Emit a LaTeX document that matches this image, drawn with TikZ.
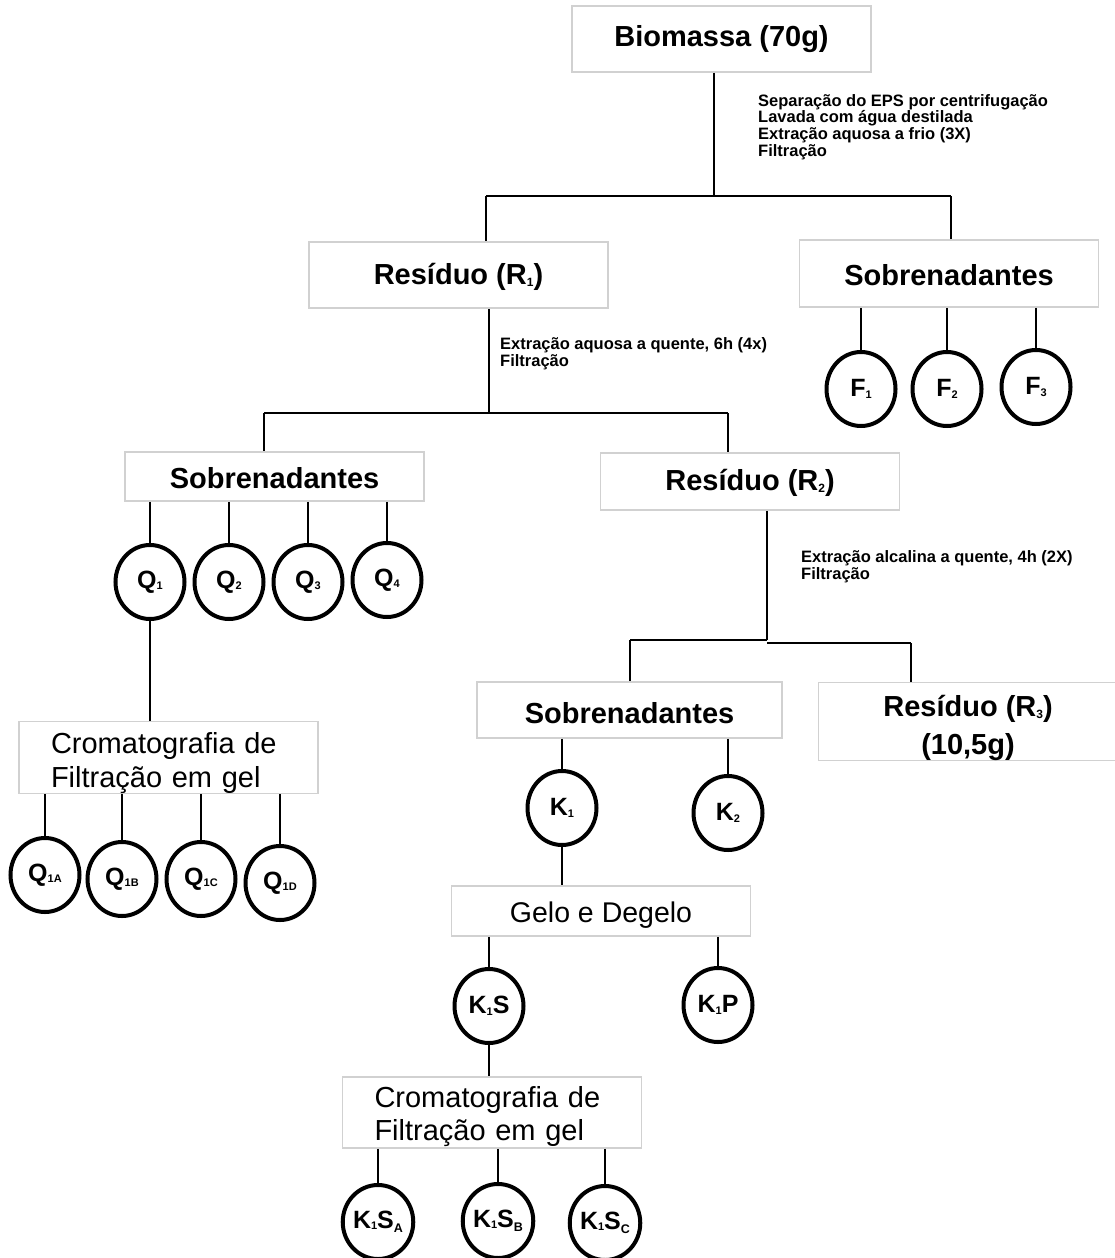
\documentclass[tikz,border=0pt]{standalone}
\usepackage{fontspec}
\setmainfont{Liberation Sans}
\usetikzlibrary{shapes.geometric}
\newcommand{\bsub}[1]{\raisebox{-2pt}{\fontsize{12}{12}\selectfont #1}}
\newcommand{\csub}[1]{\raisebox{-1.5pt}{\fontsize{11}{11}\selectfont #1}}
\newcommand{\dsub}[1]{\raisebox{-4.5pt}{\fontsize{12.5}{12.5}\selectfont #1}}
\tikzset{
  bx/.style={draw=black!18, line width=1.5pt, inner sep=0pt, minimum width=299pt, font=\fontsize{29}{33}\selectfont\bfseries},
  crom/.style={draw=black!18, line width=1.5pt, inner ysep=0pt, inner xsep=32pt, text width=235pt, align=left, minimum width=299pt, minimum height=71pt, font=\fontsize{29}{33.5}\selectfont},
  crc/.style={ellipse, draw=black, line width=4pt, inner sep=0pt, minimum width=69pt, minimum height=74pt, font=\fontsize{25}{25}\selectfont\bfseries},
  conn/.style={draw=black, line width=2.2pt},
  ann/.style={anchor=base west, inner sep=0pt, font=\fontsize{16.5}{17}\selectfont\bfseries}
}
\begin{document}
\begin{tikzpicture}[x=1pt,y=-1pt]
\useasboundingbox (0,0) rectangle (1114,1258);

% boxes
\node[bx, minimum height=66pt] (B) at (721.5,39) {Biomassa (70g)};
\node[bx, minimum height=66pt] (R1) at (458.5,275) {\rule{0pt}{25pt}Resíduo (R\bsub{1})};
\node[bx, minimum height=67pt] (S1) at (949,273.5) {\rule{0pt}{25pt}Sobrenadantes};
\node[bx, minimum height=49pt] (S2) at (274.5,476.5) {\rule{0pt}{25pt}Sobrenadantes};
\node[bx, minimum height=57pt] (R2) at (750,481.5) {\rule{0pt}{25pt}Resíduo (R\bsub{2})};
\node[crom] (C1) at (168.5,757.5) {\rule{0pt}{32pt}Cromatografia de\\Filtração em gel};
\node[bx, minimum width=305pt, minimum height=56pt] (S3) at (629.5,710) {\rule{0pt}{27pt}Sobrenadantes};
\node[bx, minimum height=77pt, align=center, font=\fontsize{29}{38}\selectfont\bfseries] (R3) at (968,721.5) {\rule{0pt}{34pt}Resíduo (R\bsub{3})\\(10,5g)};
\node[bx, minimum height=50pt, font=\fontsize{28.5}{33}\selectfont] (G) at (601,911) {\rule{0pt}{28pt}Gelo e Degelo};
\node[crom] (C2) at (492,1112.5) {\rule{0pt}{29pt}Cromatografia de\\Filtração em gel};

% circles
\node[crc] (F1) at (861,389) {F\csub{1}};
\node[crc] (F2) at (947,389) {F\csub{2}};
\node[crc] (F3) at (1036,387) {F\csub{3}};
\node[crc] (Q1) at (150,582) {Q\csub{1}};
\node[crc] (Q2) at (229,582) {Q\csub{2}};
\node[crc] (Q3) at (308,582) {Q\csub{3}};
\node[crc] (Q4) at (387,580) {Q\csub{4}};
\node[crc] (Q1A) at (45,875) {Q\csub{1A}};
\node[crc] (Q1B) at (122,879) {Q\csub{1B}};
\node[crc] (Q1C) at (201,879) {Q\csub{1C}};
\node[crc] (Q1D) at (280,883) {Q\csub{1D}};
\node[crc] (K1) at (562,808) {K\csub{1}};
\node[crc] (K2) at (728,813) {K\csub{2}};
\node[crc] (K1S) at (489,1006) {K\csub{1}S};
\node[crc] (K1P) at (718,1005) {K\csub{1}P};
\node[crc] (K1SA) at (378,1222) {K\csub{1}S\dsub{A}};
\node[crc] (K1SB) at (498,1221) {K\csub{1}S\dsub{B}};
\node[crc] (K1SC) at (605,1223) {K\csub{1}S\dsub{C}};

% annotations
\node[ann] (a11) at (758,106) {Separação do EPS por centrifugação};
\node[ann] (a12) at (758,122.7) {Lavada com água destilada};
\node[ann] (a13) at (758,139.4) {Extração aquosa a frio (3X)};
\node[ann] (a14) at (758,156.1) {Filtração};
\node[ann] (a21) at (500,349.5) {Extração aquosa a quente, 6h (4x)};
\node[ann] (a22) at (500,366.5) {Filtração};
\node[ann] (a31) at (801,562.5) {Extração alcalina a quente, 4h (2X)};
\node[ann] (a32) at (801,579.5) {Filtração};

% junction coordinates
\coordinate (j1) at (714,196);
\coordinate (j1l) at (486,196);
\coordinate (j1r) at (951,196);
\coordinate (j2) at (489,413);
\coordinate (j2l) at (264,413);
\coordinate (j2r) at (728,413);
\coordinate (j3) at (767,640);
\coordinate (j3b) at (767,643);
\coordinate (j3l) at (630,640);
\coordinate (j3r) at (911,643);

% connectors
\draw[conn] (B.south -| j1) -- (j1);
\draw[conn] (j1l) -- (j1r);
\draw[conn] (j1l) -- (j1l |- R1.north);
\draw[conn] (j1r) -- (j1r |- S1.north);

\foreach \c in {F1,F2,F3} \draw[conn] (\c |- S1.south) -- (\c.north);

\draw[conn] (R1.south -| j2) -- (j2);
\draw[conn] (j2l) -- (j2r);
\draw[conn] (j2l) -- (j2l |- S2.north);
\draw[conn] (j2r) -- (j2r |- R2.north);

\foreach \c in {Q1,Q2,Q3,Q4} \draw[conn] (\c |- S2.south) -- (\c.north);
\draw[conn] (Q1.south) -- (Q1.south |- C1.north);
\foreach \c in {Q1A,Q1B,Q1C,Q1D} \draw[conn] (\c |- C1.south) -- (\c.north);

\draw[conn] (R2.south -| j3) -- (j3);
\draw[conn] (j3) -- (j3l);
\draw[conn] (j3b) -- (j3r);
\draw[conn] (j3l) -- (j3l |- S3.north);
\draw[conn] (j3r) -- (j3r |- R3.north);

\foreach \c in {K1,K2} \draw[conn] (\c |- S3.south) -- (\c.north);
\draw[conn] (K1.south) -- (K1.south |- G.north);
\foreach \c in {K1S,K1P} \draw[conn] (\c |- G.south) -- (\c.north);
\draw[conn] (K1S.south) -- (K1S.south |- C2.north);
\foreach \c in {K1SA,K1SB,K1SC} \draw[conn] (\c |- C2.south) -- (\c.north);
\end{tikzpicture}
\end{document}
